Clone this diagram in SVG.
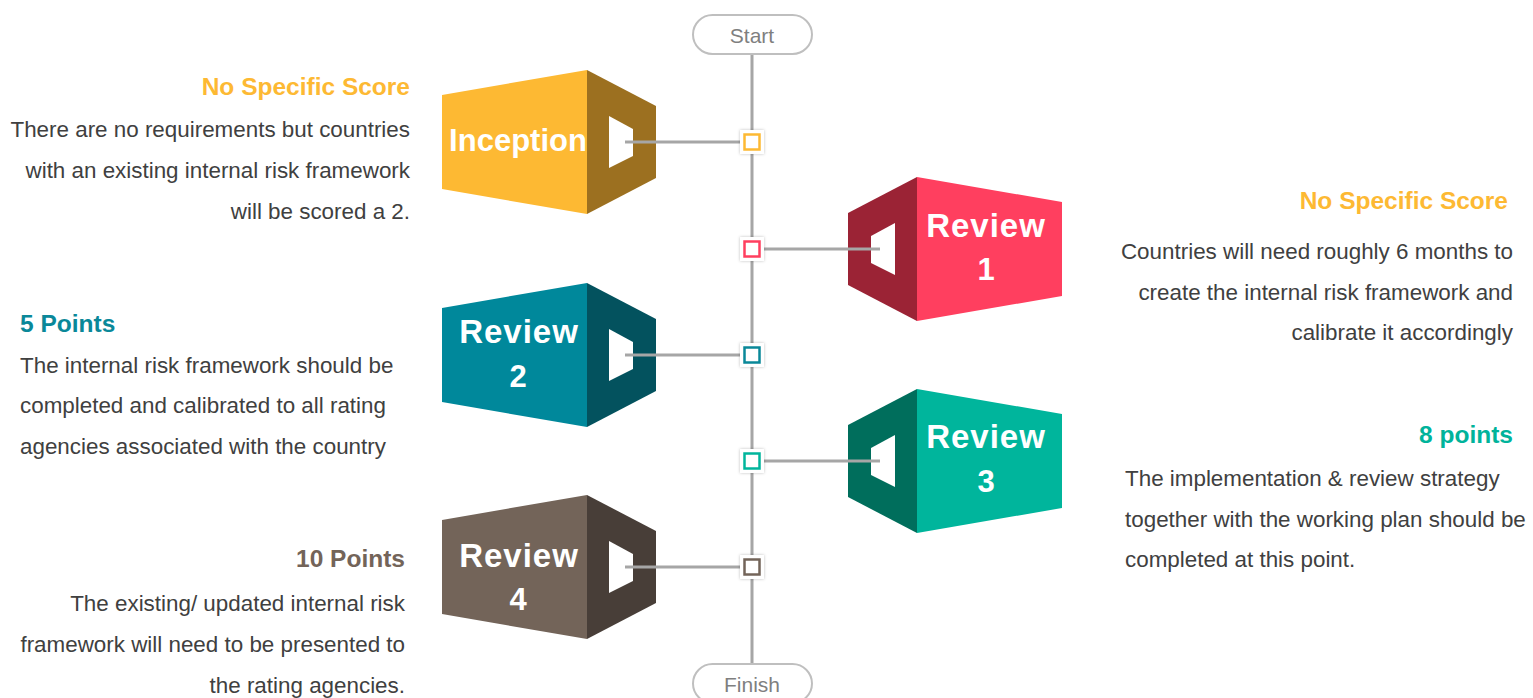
<svg xmlns="http://www.w3.org/2000/svg" xmlns:xlink="http://www.w3.org/1999/xlink" width="1533" height="698" viewBox="0 0 1533 698">
  <style>
    .line { stroke: #A6A6A6; stroke-width: 3; fill: none; }
    .pill { fill: #FFFFFF; stroke: #BFBFBF; stroke-width: 2; }
    .pill-text { font-family: "Liberation Sans", Arial, sans-serif; font-size: 21px; fill: #7F7F7F; text-anchor: middle; }
    .block-text { font-family: "Liberation Sans", Arial, sans-serif; font-size: 31px; font-weight: bold; fill: #FFFFFF; text-anchor: middle; }
    .review { font-size: 33px; letter-spacing: 1px; }
    .title { font-family: "Liberation Sans", Arial, sans-serif; font-size: 24.5px; font-weight: bold; }
    .body { font-family: "Liberation Sans", Arial, sans-serif; font-size: 22.4px; fill: #404040; }
    .end { text-anchor: end; }
    .marker-bg { fill: #FFFFFF; filter: url(#soft); }
    .marker { fill: #FFFFFF; stroke-width: 2.5; }
  </style>
  <defs>
    <filter id="soft" x="-50%" y="-50%" width="200%" height="200%">
      <feDropShadow dx="0" dy="0" stdDeviation="1.5" flood-color="#000000" flood-opacity="0.25"/>
    </filter>
    <!-- block faces, drawn around y = 0 for a left-hand block -->
    <polygon id="front" points="442,-47 587,-72 587,72 442,47"/>
    <polygon id="side" points="587,-72 656,-36 656,36 587,72"/>
    <polygon id="hole" points="609,-26 633,-13 633,14 609,26"/>
  </defs>

  <!-- timeline and connectors -->
  <g id="connectors">
    <line class="line" x1="752" y1="54" x2="752" y2="664"/>
    <line class="line" x1="625" y1="142" x2="745" y2="142"/>
    <line class="line" x1="759" y1="249" x2="880" y2="249"/>
    <line class="line" x1="625" y1="355" x2="745" y2="355"/>
    <line class="line" x1="759" y1="461" x2="880" y2="461"/>
    <line class="line" x1="625" y1="567" x2="745" y2="567"/>
  </g>

  <g id="start">
    <rect class="pill" x="693" y="15" width="119" height="39" rx="19.5"/>
    <text class="pill-text" x="752" y="43">Start</text>
  </g>
  <g id="finish">
    <rect class="pill" x="693" y="664" width="119" height="39" rx="19.5"/>
    <text class="pill-text" x="752" y="692">Finish</text>
  </g>

  <!-- milestone markers on the timeline -->
  <g id="markers">
    <rect class="marker-bg" x="740" y="130" width="24" height="24"/>
    <rect class="marker" x="744.5" y="134.5" width="15" height="15" stroke="#FDB933"/>
    <rect class="marker-bg" x="740" y="237" width="24" height="24"/>
    <rect class="marker" x="744.5" y="241.5" width="15" height="15" stroke="#FF3F5F"/>
    <rect class="marker-bg" x="740" y="343" width="24" height="24"/>
    <rect class="marker" x="744.5" y="347.5" width="15" height="15" stroke="#0A8899"/>
    <rect class="marker-bg" x="740" y="449" width="24" height="24"/>
    <rect class="marker" x="744.5" y="453.5" width="15" height="15" stroke="#00B59C"/>
    <rect class="marker-bg" x="740" y="555" width="24" height="24"/>
    <rect class="marker" x="744.5" y="559.5" width="15" height="15" stroke="#736459"/>
  </g>

  <!-- Inception -->
  <g id="inception">
    <g transform="translate(0,142)">
      <use href="#front" fill="#FDB933"/>
      <use href="#side" fill="#9C7020"/>
      <use href="#hole" fill="#FFFFFF"/>
    </g>
    <line class="line" x1="625" y1="142" x2="656" y2="142"/>
    <text class="block-text" x="518" y="151">Inception</text>
    <text class="title end" x="410" y="95" fill="#FDB933">No Specific Score</text>
    <text class="body end" x="410" y="137">There are no requirements but countries</text>
    <text class="body end" x="410" y="178">with an existing internal risk framework</text>
    <text class="body end" x="410" y="219">will be scored a 2.</text>
  </g>

  <!-- Review 1 -->
  <g id="review1">
    <g transform="translate(1504,249) scale(-1,1)">
      <use href="#front" fill="#FF3F5F"/>
      <use href="#side" fill="#9B2335"/>
      <use href="#hole" fill="#FFFFFF"/>
    </g>
    <line class="line" x1="848" y1="249" x2="880" y2="249"/>
    <text class="block-text review" x="986" y="237">Review</text>
    <text class="block-text" x="986" y="280">1</text>
    <text class="title end" x="1508" y="209" fill="#FDB933">No Specific Score</text>
    <text class="body end" x="1513" y="259">Countries will need roughly 6 months to</text>
    <text class="body end" x="1513" y="300">create the internal risk framework and</text>
    <text class="body end" x="1513" y="340">calibrate it accordingly</text>
  </g>

  <!-- Review 2 -->
  <g id="review2">
    <g transform="translate(0,355)">
      <use href="#front" fill="#00889B"/>
      <use href="#side" fill="#03525E"/>
      <use href="#hole" fill="#FFFFFF"/>
    </g>
    <line class="line" x1="625" y1="355" x2="656" y2="355"/>
    <text class="block-text review" x="519" y="343">Review</text>
    <text class="block-text" x="518" y="387">2</text>
    <text class="title" x="20" y="332" fill="#0A8899">5 Points</text>
    <text class="body" x="20" y="373">The internal risk framework should be</text>
    <text class="body" x="20" y="413">completed and calibrated to all rating</text>
    <text class="body" x="20" y="454">agencies associated with the country</text>
  </g>

  <!-- Review 3 -->
  <g id="review3">
    <g transform="translate(1504,461) scale(-1,1)">
      <use href="#front" fill="#00B59C"/>
      <use href="#side" fill="#006E5C"/>
      <use href="#hole" fill="#FFFFFF"/>
    </g>
    <line class="line" x1="848" y1="461" x2="880" y2="461"/>
    <text class="block-text review" x="986" y="448">Review</text>
    <text class="block-text" x="986" y="492">3</text>
    <text class="title end" x="1513" y="443" fill="#00B39B">8 points</text>
    <text class="body" x="1125" y="486">The implementation &amp; review strategy</text>
    <text class="body" x="1125" y="527">together with the working plan should be</text>
    <text class="body" x="1125" y="567">completed at this point.</text>
  </g>

  <!-- Review 4 -->
  <g id="review4">
    <g transform="translate(0,567)">
      <use href="#front" fill="#736459"/>
      <use href="#side" fill="#483E38"/>
      <use href="#hole" fill="#FFFFFF"/>
    </g>
    <line class="line" x1="625" y1="567" x2="656" y2="567"/>
    <text class="block-text review" x="519" y="567">Review</text>
    <text class="block-text" x="518" y="610">4</text>
    <text class="title end" x="405" y="567" fill="#736459">10 Points</text>
    <text class="body end" x="405" y="611">The existing/ updated internal risk</text>
    <text class="body end" x="405" y="652">framework will need to be presented to</text>
    <text class="body end" x="405" y="693">the rating agencies.</text>
  </g>
</svg>
